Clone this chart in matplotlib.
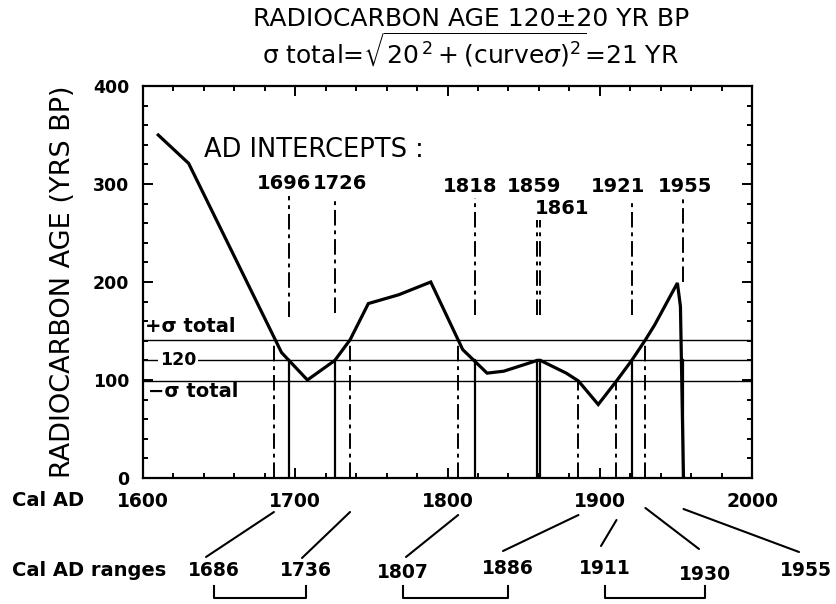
import matplotlib
matplotlib.use("Agg")
import matplotlib.pyplot as plt
from matplotlib.lines import Line2D
from matplotlib.patches import ConnectionPatch
import matplotlib.transforms as mtransforms

# calibration curve (Cal AD vs radiocarbon age)
CURVE_YEAR = [1610, 1630, 1691, 1708, 1726, 1736, 1748, 1768, 1789, 1810,
              1826, 1837, 1859, 1861, 1878, 1886, 1899, 1911, 1921, 1930,
              1936, 1951, 1953, 1955]
CURVE_AGE = [350, 321, 128, 100, 120, 141, 178, 187, 200, 131,
             107, 109, 120, 120, 107, 99, 75, 99, 120, 141,
             156, 199, 175, 0]

AGE = 120
SIGMA = 21

# AD intercepts of the 120 BP line
INTERCEPTS = [1696, 1726, 1818, 1859, 1861, 1921, 1955]
INTERCEPT_TOP = [288, 287, 286, 263, 263, 285, 286]
INTERCEPT_BOTTOM = [164, 168, 166, 166, 166, 166, 200]

# calibrated ranges (where the curve meets +/- sigma)
RANGES = [1686, 1736, 1807, 1886, 1911, 1930, 1955]
RANGE_LEVEL = [141, 141, 141, 99, 99, 141, None]
RANGE_PAIRS = [(0, 1), (2, 3), (4, 5)]

W, H = 836, 604


def fx(px):
    return px / W


def fy(py):
    return 1 - py / H


fig = plt.figure(figsize=(W / 100, H / 100), dpi=100)
ax = fig.add_axes([fx(143), fy(478), (752 - 143) / W, (478 - 86) / H])
ax.set_xlim(1600, 2000)
ax.set_ylim(0, 400)

dashdot = (0, (8, 2.5, 2, 2.5))

# sigma band and central age
for lvl in (AGE + SIGMA, AGE, AGE - SIGMA):
    ax.axhline(lvl, color="black", lw=1.0, zorder=2)

# intercepts: solid below the age line, dash-dot above the curve
for yr, top, bot in zip(INTERCEPTS, INTERCEPT_TOP, INTERCEPT_BOTTOM):
    ax.plot([yr, yr], [0, AGE], color="black", lw=1.6, zorder=3)
    ax.plot([yr, yr], [bot, top], color="black", lw=1.4, ls=dashdot, zorder=3)

# range limits: dash-dot from the axis up to the sigma line
for yr, lvl in zip(RANGES, RANGE_LEVEL):
    if lvl is None:
        continue
    ax.plot([yr, yr], [0, lvl], color="black", lw=1.4, ls=dashdot, zorder=3)

ax.plot(CURVE_YEAR, CURVE_AGE, color="black", lw=2.3, zorder=4,
        solid_joinstyle="miter")

# labels inside the plot
ax.text(1640, 335, "AD INTERCEPTS :", fontsize=18.5, va="center", ha="left")
lab_pos = [(1692.5, 301), (1729.5, 301), (1815, 297), (1857, 297),
           (1875, 275), (1912, 297), (1956, 297)]
for yr, (lx, ly) in zip(INTERCEPTS, lab_pos):
    ax.text(lx, ly, str(yr), fontsize=14, fontweight="bold",
            ha="center", va="center")

ax.text(1601.5, 155, "+σ total", fontsize=14, fontweight="bold",
        ha="left", va="center")
ax.text(1603, 88, "−σ total", fontsize=14, fontweight="bold",
        ha="left", va="center")
ax.text(1623, AGE, str(AGE), fontsize=12.5, fontweight="bold",
        ha="center", va="center", zorder=5,
        bbox=dict(facecolor="white", edgecolor="none", pad=1.0))

# axes styling
ax.set_xticks(range(1600, 2001, 100))
ax.set_xticks(range(1600, 2001, 20), minor=True)
ax.set_yticks(range(0, 401, 100))
ax.set_yticks(range(0, 401, 20), minor=True)
ax.tick_params(which="both", direction="in", top=True, right=True,
               width=1.4, colors="black")
ax.tick_params(which="major", length=7)
ax.tick_params(which="minor", length=3.5)
ax.tick_params(axis="x", labelsize=13.5, pad=10)
ax.tick_params(axis="y", labelsize=12.5, pad=10)
plt.setp(ax.get_xticklabels() + ax.get_yticklabels(), fontweight="bold")
for sp in ax.spines.values():
    sp.set_linewidth(1.6)

ax.set_ylabel("RADIOCARBON AGE (YRS BP)", fontsize=19.5, labelpad=12)

# title
fig.text(fx(471), fy(19), "RADIOCARBON AGE 120±20 YR BP", fontsize=18,
         ha="center", va="center")
fig.text(fx(470), fy(50),
         r"σ total=$\sqrt{20^{\,2}+(\mathrm{curve}\sigma)^2}$=21 YR",
         fontsize=18, ha="center", va="center")

# lower scale labels
fig.text(fx(12), fy(500), "Cal AD", fontsize=14, fontweight="bold",
         ha="left", va="center")
fig.text(fx(12), fy(571), "Cal AD ranges", fontsize=14, fontweight="bold",
         ha="left", va="center")

range_lab_x = [214, 306, 403, 508, 605, 705, 806]
range_lab_y = [571, 571, 572, 569, 568, 574, 571]
conn_top = [512, 512, 515, 515, 520, 508, 509]
conn_bot = [(206, 557), (302, 558), (406, 557), (503, 551), (601, 546),
            (699, 549), (799, 552)]
blend = mtransforms.blended_transform_factory(ax.transData, fig.transFigure)
for yr, lx, ly, ct, (bx, by) in zip(RANGES, range_lab_x, range_lab_y,
                                     conn_top, conn_bot):
    fig.text(fx(lx), fy(ly), str(yr), fontsize=13.5, fontweight="bold",
             ha="center", va="center")
    con = ConnectionPatch(xyA=(yr, fy(ct)), coordsA=blend,
                          xyB=(fx(bx), fy(by)), coordsB=fig.transFigure,
                          color="black", lw=1.5)
    fig.add_artist(con)

# brackets joining the lower/upper limit of each range
for i, j in RANGE_PAIRS:
    x1, x2 = fx(range_lab_x[i]), fx(range_lab_x[j])
    fig.add_artist(Line2D([x1, x1, x2, x2], [fy(586), fy(598), fy(598), fy(586)],
                          transform=fig.transFigure, color="black", lw=1.5))

fig.savefig("out.png", dpi=100)
